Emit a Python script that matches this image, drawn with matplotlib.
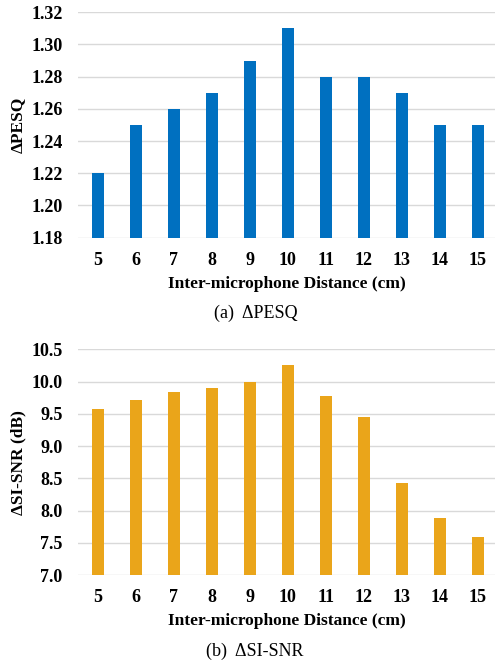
import numpy as np
import matplotlib.pyplot as plt
from matplotlib.ticker import FormatStrFormatter

distances = ['5', '6', '7', '8', '9', '10', '11', '12', '13', '14', '15']
pesq = [1.22, 1.25, 1.26, 1.27, 1.29, 1.31, 1.28, 1.28, 1.27, 1.25, 1.25]
sisnr = [9.57, 9.72, 9.84, 9.90, 10.00, 10.25, 9.78, 9.45, 8.42, 7.88, 7.59]

plt.rcParams['font.family'] = ['Liberation Serif', 'DejaVu Serif']

fig = plt.figure(figsize=(4.95, 6.61), dpi=100)
x = np.arange(len(distances))


def style(ax, ylim, ticks, fmt, ylabel):
    ax.set_ylim(*ylim)
    ax.set_yticks(ticks)
    ax.yaxis.set_major_formatter(FormatStrFormatter(fmt))
    ax.set_xlim(-0.52, 10.45)
    ax.set_xticks(x)
    ax.set_xticklabels(distances)
    for s in ax.spines.values():
        s.set_visible(False)
    ax.grid(axis='y', color='#d9d9d9', linewidth=1.0)
    ax.set_axisbelow(True)
    ax.tick_params(length=0, labelsize=13, pad=10)
    ax.tick_params(axis='y', pad=11)
    for lab in ax.get_xticklabels() + ax.get_yticklabels():
        lab.set_fontweight('bold')
    ax.set_xlabel('Inter-microphone Distance (cm)', fontsize=12.5,
                  fontweight='bold', labelpad=5)
    ax.set_ylabel(ylabel, fontsize=12.5, fontweight='bold', labelpad=4)


ax1 = fig.add_axes([0.1576, 0.6404, 0.8424, 0.341])
ax1.bar(x, pesq, width=0.31, color='#0070c0')
style(ax1, (1.18, 1.32), np.arange(1.18, 1.321, 0.02), '%.2f', 'ΔPESQ')
fig.text(0.516, 0.526, '(a)  ΔPESQ', ha='center', va='center', fontsize=13)

ax2 = fig.add_axes([0.1576, 0.1301, 0.8424, 0.3415])
ax2.bar(x, sisnr, width=0.31, color='#eaa51a')
style(ax2, (7.0, 10.5), np.arange(7.0, 10.51, 0.5), '%.1f', 'ΔSI-SNR (dB)')
fig.text(0.515, 0.0146, '(b)  ΔSI-SNR', ha='center', va='center', fontsize=13)

plt.savefig('out.png')
